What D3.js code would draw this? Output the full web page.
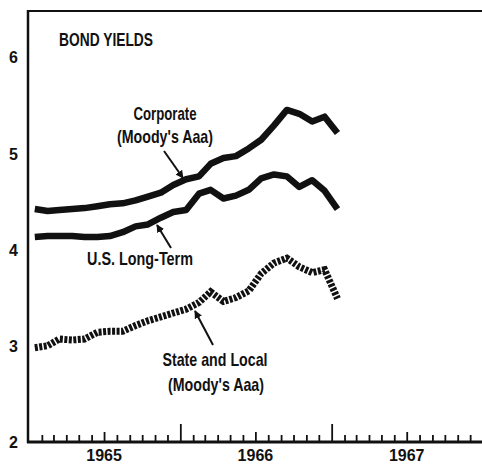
<!DOCTYPE html>
<html>
<head>
<meta charset="utf-8">
<script src="https://cdn.jsdelivr.net/npm/d3@7/dist/d3.min.js"></script>
<style>
  html, body { margin: 0; padding: 0; background: #fff; }
  svg { display: block; }
  .lbl { font-family: "Liberation Sans", Arial, sans-serif; font-weight: bold; font-size: 19px; fill: #111; }
  .num { font-family: "Liberation Sans", Arial, sans-serif; font-weight: bold; font-size: 16px; fill: #111; }
</style>
</head>
<body>
<svg id="chart" width="482" height="464"></svg>
<script>
const months = ["1965-01","1965-02","1965-03","1965-04","1965-05","1965-06","1965-07","1965-08","1965-09","1965-10","1965-11","1965-12",
                "1966-01","1966-02","1966-03","1966-04","1966-05","1966-06","1966-07","1966-08","1966-09","1966-10","1966-11","1966-12",
                "1967-01"];
const corporate = [4.42,4.40,4.41,4.42,4.43,4.45,4.47,4.48,4.51,4.55,4.59,4.67,
                   4.73,4.76,4.89,4.95,4.97,5.05,5.14,5.29,5.45,5.41,5.33,5.38,
                   5.21];
const usLongTerm = [4.13,4.14,4.14,4.14,4.13,4.13,4.14,4.18,4.24,4.26,4.33,4.39,
                    4.41,4.58,4.62,4.53,4.56,4.62,4.74,4.78,4.76,4.65,4.72,4.61,
                    4.42];
const stateLocal = [2.98,3.00,3.07,3.06,3.07,3.14,3.15,3.15,3.21,3.26,3.30,3.34,
                    3.38,3.45,3.56,3.46,3.50,3.57,3.75,3.86,3.91,3.82,3.76,3.79,
                    3.49];
const yTicks = [2,3,4,5,6];
const yearLabels = ["1965","1966","1967"];
const title = "BOND YIELDS";

const svg = d3.select("#chart");
const parseM = d3.timeParse("%Y-%m");
const midMonth = m => d3.timeDay.offset(parseM(m), 14);

const x = d3.scaleTime()
  .domain([new Date(1965,0,1), new Date(1968,0,1)])
  .range([29, 483]);
const y = d3.scaleLinear().domain([2, 6]).range([442, 57]);

// frame
svg.append("line").attr("x1", 27).attr("x2", 482).attr("y1", 11).attr("y2", 11)
  .attr("stroke", "#111").attr("stroke-width", 2);
svg.append("line").attr("x1", 28).attr("x2", 28).attr("y1", 10).attr("y2", 443)
  .attr("stroke", "#111").attr("stroke-width", 2.5);

// x axis
const monthTicks = d3.timeMonth.range(new Date(1965,1,1), new Date(1968,0,1));
const xAxis = d3.axisBottom(x).tickValues(monthTicks).tickSize(-6).tickFormat("");
const gx = svg.append("g").attr("transform", "translate(0,442)").call(xAxis);
gx.select(".domain").remove();
gx.selectAll(".tick line")
  .attr("stroke", "#111").attr("stroke-width", 1.8)
  .attr("y2", d => d.getMonth() === 0 ? -18 : (d.getMonth() === 6 ? -10 : -7));
svg.append("line").attr("x1", 27).attr("x2", 482).attr("y1", 442).attr("y2", 442)
  .attr("stroke", "#111").attr("stroke-width", 3);

svg.append("g").selectAll("text").data(yearLabels).join("text")
  .attr("class", "num")
  .attr("x", d => x(new Date(+d, 6, 1)))
  .attr("y", 461)
  .attr("text-anchor", "middle")
  .text(d => d);

// y axis labels
const yAxis = d3.axisLeft(y).tickValues(yTicks).tickSize(0).tickPadding(0).tickFormat(d3.format("d"));
const gy = svg.append("g").attr("transform", "translate(18,0)").call(yAxis);
gy.select(".domain").remove();
gy.selectAll(".tick text").attr("class", "num").attr("dy", "0.36em");

// lines
const line = d3.line().x((d, i) => x(midMonth(months[i]))).y(d => y(d));
svg.append("path").datum(corporate).attr("d", line)
  .attr("fill", "none").attr("stroke", "#111").attr("stroke-width", 6.5)
  .attr("stroke-linejoin", "round");
svg.append("path").datum(usLongTerm).attr("d", line)
  .attr("fill", "none").attr("stroke", "#111").attr("stroke-width", 6.5)
  .attr("stroke-linejoin", "round");
svg.append("path").datum(stateLocal).attr("d", line)
  .attr("fill", "none").attr("stroke", "#111").attr("stroke-width", 7)
  .attr("stroke-dasharray", "3,1.5");

// title and labels (condensed via textLength)
function label(txt, cx, yb, w, anchor, fs) {
  svg.append("text").attr("class", "lbl")
    .attr("text-anchor", anchor || "middle")
    .attr("x", cx).attr("y", yb)
    .style("font-size", (fs || 19) + "px")
    .attr("textLength", w).attr("lengthAdjust", "spacingAndGlyphs")
    .text(txt);
}
label(title, 59, 46, 94, "start", 18);
label("Corporate", 165, 120, 63);
label("(Moody's Aaa)", 165, 143, 96);
label("U.S. Long-Term", 140, 265, 106);
label("State and Local", 215, 366, 105);
label("(Moody's Aaa)", 216, 391, 96);

// arrows
const defs = svg.append("defs");
defs.append("marker").attr("id", "ah").attr("viewBox", "0 0 10 10")
  .attr("refX", 9).attr("refY", 5).attr("markerWidth", 4).attr("markerHeight", 4)
  .attr("markerUnits", "strokeWidth").attr("orient", "auto")
  .append("path").attr("d", "M0,0 L10,5 L0,10 Z").attr("fill", "#111");
const arrows = [[164,151,183,178],[171,248,157,225],[213,345,195,311]];
svg.append("g").selectAll("line").data(arrows).join("line")
  .attr("x1", d => d[0]).attr("y1", d => d[1]).attr("x2", d => d[2]).attr("y2", d => d[3])
  .attr("stroke", "#111").attr("stroke-width", 2).attr("marker-end", "url(#ah)");
</script>
</body>
</html>
